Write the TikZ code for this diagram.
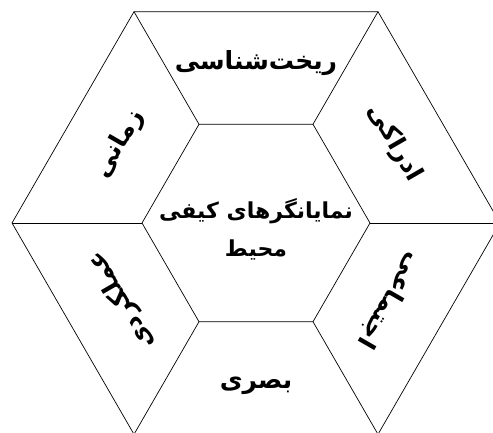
\documentclass[tikz,border=0pt]{standalone}
\usepackage{fontspec}
\usepackage{tikz}
\newfontfamily\arabicfont[Script=Arabic]{DejaVu Sans}
\TeXXeTstate=1
\newcommand{\rtl}[1]{\beginR #1\endR}

\begin{document}
\begin{tikzpicture}[x=1pt,y=1pt, every node/.style={font=\arabicfont\bfseries\fontsize{25}{33}\selectfont}, lbl/.style={inner sep=1pt,align=center}, edge/.style={line width=0.7pt,black}]
\useasboundingbox (0,0) rectangle (493,432);
\clip (0,0) rectangle (493,432);
\coordinate (c) at (256,209);
\foreach \a in {0,60,...,300} {\path (c) ++(\a:244) coordinate (o\a); \path (c) ++(\a:114) coordinate (i\a);}
\draw[edge] (o0)--(o60)--(o120)--(o180)--(o240)--(o300)--cycle;
\draw[edge] (i0)--(i60)--(i120)--(i180)--(i240)--(i300)--cycle;
\foreach \a in {0,60,...,300} {\draw[edge] (i\a)--(o\a);}
\node[lbl,font=\arabicfont\bfseries\fontsize{22}{38}\selectfont] (mid) at (256,203) {\rtl{نمایانگرهای کیفی}\\\rtl{محیط}};
\node[lbl] (morph) at ([shift={(90:160)}]c) {\rtl{ریخت‌شناسی}};
\node[lbl,rotate=-60] (adrak) at ([shift={(30:160)}]c) {\rtl{ادراکی}};
\node[lbl,rotate=-120] (ejte) at ([shift={(-30:155)}]c) {\rtl{اجتماعی}};
\node[lbl] (basar) at ([shift={(-90:163)}]c) {\rtl{بصری}};
\node[lbl,rotate=120] (amal) at ([shift={(210:155)}]c) {\rtl{عملکردی}};
\node[lbl,rotate=60] (zaman) at ([shift={(150:158)}]c) {\rtl{زمانی}};
\end{tikzpicture}
\end{document}
